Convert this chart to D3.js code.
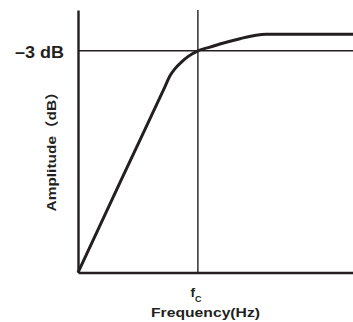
<!DOCTYPE html>
<html>
<head>
<meta charset="utf-8">
<script src="https://cdn.jsdelivr.net/npm/d3@7"></script>
<style>
  html, body { margin: 0; padding: 0; background: #fff; }
  svg { display: block; }
  text { font-family: "Liberation Sans", Arial, "Noto Sans CJK SC", sans-serif; font-weight: bold; fill: #231f20; }
</style>
</head>
<body>
<svg id="chart" width="353" height="322"></svg>
<script>
// Response curve of a high-pass filter: frequency (relative units) vs amplitude (dB)
const freq = [0, 1.58, 3.16, 3.35, 3.53, 3.77, 4.01, 4.36, 4.8, 5.16, 5.89, 6.47, 6.84, 10];
const ampDb = [-43.5, -26.5, -9.58, -7.53, -6.25, -5.01, -4.02, -3.0, -2.32, -1.77, -0.79, -0.16, 0, 0];
const cutoffFreq = 4.36;
const cutoffDb = -3;
const freqDomain = [0, 10];
const ampDomain = [-43.5, 4.45];
const cutoffLabel = "–3 dB";
const xTitle = "Frequency(Hz)";
const yTitle = "Amplitude（dB）";

const ink = "#231f20";
const svg = d3.select("#chart");

const x = d3.scaleLinear().domain(freqDomain).range([78, 353]);
const y = d3.scaleLinear().domain(ampDomain).range([272.5, 10]);

// reference lines at the cut-off frequency and -3 dB
svg.append("line")
  .attr("x1", x(cutoffFreq)).attr("x2", x(cutoffFreq))
  .attr("y1", y(ampDomain[1])).attr("y2", y(ampDomain[0]))
  .attr("stroke", ink).attr("stroke-width", 1.4);
svg.append("line")
  .attr("x1", x(freqDomain[0])).attr("x2", x(freqDomain[1]))
  .attr("y1", y(cutoffDb)).attr("y2", y(cutoffDb))
  .attr("stroke", ink).attr("stroke-width", 1.6);

// axes without ticks
const xAxis = d3.axisBottom(x).tickValues([]).tickSizeOuter(0);
const yAxis = d3.axisLeft(y).tickValues([]).tickSizeOuter(0);
svg.append("g").attr("transform", `translate(0,${y(ampDomain[0])})`).call(xAxis)
  .select(".domain").attr("stroke", ink).attr("stroke-width", 2.4);
svg.append("g").attr("transform", `translate(${x(freqDomain[0])},0)`).call(yAxis)
  .select(".domain").attr("stroke", ink).attr("stroke-width", 2.4);

// response curve
const line = d3.line()
  .x((d, i) => x(freq[i]))
  .y((d, i) => y(ampDb[i]))
  .curve(d3.curveMonotoneX);
svg.append("path")
  .datum(freq)
  .attr("d", line)
  .attr("fill", "none")
  .attr("stroke", ink)
  .attr("stroke-width", 3)
  .attr("stroke-linejoin", "round");

// labels
svg.append("text")
  .attr("x", 64).attr("y", 57.5)
  .attr("text-anchor", "end")
  .attr("font-size", 16)
  .attr("textLength", 49).attr("lengthAdjust", "spacingAndGlyphs")
  .text(cutoffLabel);

const fc = svg.append("text")
  .attr("x", x(cutoffFreq) - 2).attr("y", 297)
  .attr("text-anchor", "middle")
  .attr("font-size", 13.5);
fc.append("tspan").text("f");
fc.append("tspan").attr("font-size", 9).attr("dy", 5).text("C");

svg.append("text")
  .attr("x", 205.5).attr("y", 317)
  .attr("text-anchor", "middle")
  .attr("font-size", 13.5)
  .attr("textLength", 109).attr("lengthAdjust", "spacingAndGlyphs")
  .text(xTitle);

svg.append("text")
  .attr("transform", "translate(56,148) rotate(-90)")
  .attr("text-anchor", "middle")
  .attr("font-size", 13.5)
  .attr("textLength", 127).attr("lengthAdjust", "spacingAndGlyphs")
  .text(yTitle);
</script>
</body>
</html>
